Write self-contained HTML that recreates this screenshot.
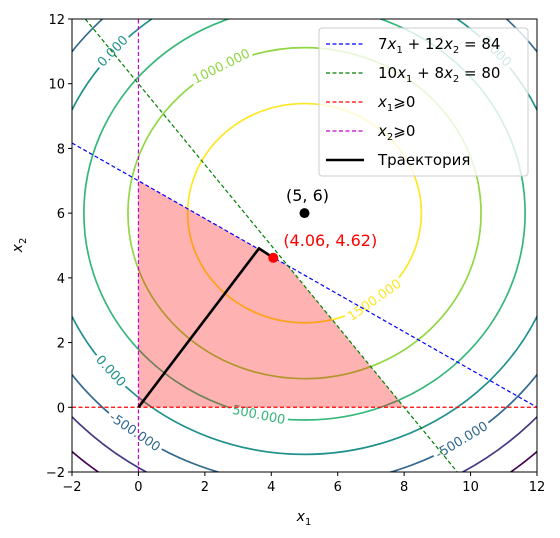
<!DOCTYPE html>
<html><head><meta charset="utf-8"><style>
html,body{margin:0;padding:0;background:#fff;}
svg{display:block;font-family:"DejaVu Sans","Liberation Sans",sans-serif;}
</style></head><body>
<svg id="chart" width="560" height="538" viewBox="0 0 560 538">
<defs><clipPath id="clip"><rect x="72" y="19" width="465" height="453"/></clipPath></defs>
<g id="plot" clip-path="url(#clip)"></g>
<g id="axes"></g>
</svg>
<script>
const levels = [-1500, -1000, -500, 0, 500, 1000, 1500];
const levelColors = ["#440154", "#443983", "#31688e", "#21918c", "#35b779", "#90d743", "#fde725"];
const peakValue = 1890, coefA = 31.5, coefB = 34, centerX = 5, centerY = 6;
const labelLevels = [0, 0, 0, 1000, 1500, 500, -500, -500];
const labelAngles = [138, 221, 42, 118, -53, 258, 234, 303];
const xTicks = [-2, 0, 2, 4, 6, 8, 10, 12];
const yTicks = [-2, 0, 2, 4, 6, 8, 10, 12];
const feasibleX = [0, 0, 4.5, 8];
const feasibleY = [0, 7, 4.375, 0];
const trajX = [0, 3.63, 4.06];
const trajY = [0, 4.91, 4.62];
const optimum = [4.06, 4.62];
const center = [5, 6];

const NS = "http://www.w3.org/2000/svg";
const X0 = 72, X1 = 537, Y0 = 19, Y1 = 472;
const sx = v => X0 + (v + 2) / 14 * (X1 - X0);
const sy = v => Y1 - (v + 2) / 14 * (Y1 - Y0);
function mk(parent, tag, attrs, text) {
  const e = document.createElementNS(NS, tag);
  for (const k in attrs) e.setAttribute(k, attrs[k]);
  if (text !== undefined) e.textContent = text;
  parent.appendChild(e);
  return e;
}
const plot = document.getElementById("plot");
const axes = document.getElementById("axes");

// contours
levels.forEach((lv, i) => {
  const a = Math.sqrt((peakValue - lv) / coefA), b = Math.sqrt((peakValue - lv) / coefB);
  const el = mk(plot, "ellipse", {cx: sx(centerX), cy: sy(centerY), rx: a * (X1 - X0) / 14, ry: b * (Y1 - Y0) / 14, fill: "none", stroke: levelColors[i], "stroke-width": 1.7});
  
  
});
// contour labels
labelLevels.forEach((lv, i) => {
  const a = Math.sqrt((peakValue - lv) / coefA), b = Math.sqrt((peakValue - lv) / coefB);
  const t = labelAngles[i] * Math.PI / 180;
  const px = sx(centerX + a * Math.cos(t)), py = sy(centerY + b * Math.sin(t));
  const dx = -a * Math.sin(t) * (X1 - X0) / 14, dy = -b * Math.cos(t) * (Y1 - Y0) / 14;
  let ang = Math.atan2(dy, dx) * 180 / Math.PI;
  if (ang > 90) ang -= 180; if (ang < -90) ang += 180;
  const idx = levels.indexOf(lv);
  const tx = mk(plot, "text", {x: px, y: py, transform: `rotate(${ang} ${px} ${py})`, "text-anchor": "middle", "dominant-baseline": "central", "font-size": 13, fill: levelColors[idx], stroke: "#fff", "stroke-width": 7, "paint-order": "stroke"}, lv.toFixed(3));
  
  
});

// feasible region (on top of contours, semi-transparent)
const poly = mk(plot, "polygon", {points: feasibleX.map((x, i) => sx(x) + "," + sy(feasibleY[i])).join(" "), fill: "#ff0000", "fill-opacity": "0.3"});



// constraint lines
function line(x1, y1, x2, y2, color, name, dash) {
  const l = mk(plot, "line", {x1: sx(x1), y1: sy(y1), x2: sx(x2), y2: sy(y2), stroke: color, "stroke-width": 1.2, "stroke-dasharray": dash});
  
  
}
line(-2, 98 / 12, 12, 0, "#0000ff", "constraint-line-1", "4 2.5");
line(-1.6, 12, 9.6, -2, "#008000", "constraint-line-2", "4 2.5");
line(-2, 0, 12, 0, "#ff0000", "x1-nonneg-line", "4 2.5");
line(0, -2, 0, 12, "#cc00cc", "x2-nonneg-line", "4 2.5");

// trajectory
const tr = mk(plot, "polyline", {points: trajX.map((x, i) => sx(x) + "," + sy(trajY[i])).join(" "), fill: "none", stroke: "#000", "stroke-width": 2.6});



const c1 = mk(plot, "circle", {cx: sx(center[0]), cy: sy(center[1]), r: 5, fill: "#000"});


const c2 = mk(plot, "circle", {cx: sx(optimum[0]), cy: sy(optimum[1]), r: 5, fill: "#ff0000"});


const t1 = mk(plot, "text", {x: sx(center[0]) + 3, y: sy(center[1]) - 12, "text-anchor": "middle", "font-size": 16, fill: "#000"}, "(5, 6)");


const t2 = mk(plot, "text", {x: sx(optimum[0]) + 57, y: sy(optimum[1]) - 12, "text-anchor": "middle", "font-size": 16, fill: "#ff0000"}, "(4.06, 4.62)");



// legend
const lg = mk(plot, "g", {});


mk(lg, "rect", {x: 319, y: 28, width: 209, height: 148, rx: 3, fill: "#fff", "fill-opacity": 0.8, stroke: "#ccc"});
const legColors = ["#0000ff", "#008000", "#ff0000", "#cc00cc", "#000"];
const legTexts = [
  '7<tspan font-style="italic">x</tspan><tspan font-size="10" dy="4">1</tspan><tspan dy="-4"> + 12</tspan><tspan font-style="italic">x</tspan><tspan font-size="10" dy="4">2</tspan><tspan dy="-4"> = 84</tspan>',
  '10<tspan font-style="italic">x</tspan><tspan font-size="10" dy="4">1</tspan><tspan dy="-4"> + 8</tspan><tspan font-style="italic">x</tspan><tspan font-size="10" dy="4">2</tspan><tspan dy="-4"> = 80</tspan>',
  '<tspan font-style="italic">x</tspan><tspan font-size="10" dy="4">1</tspan><tspan dy="-4">⩾0</tspan>',
  '<tspan font-style="italic">x</tspan><tspan font-size="10" dy="4">2</tspan><tspan dy="-4">⩾0</tspan>',
  'Траектория'];
legTexts.forEach((s, i) => {
  const y = 44 + i * 29;
  const ent = mk(lg, "g", {});
  
  
  mk(ent, "line", {x1: 326, x2: 364, y1: y, y2: y, stroke: legColors[i], "stroke-width": i == 4 ? 2.6 : 1.2, "stroke-dasharray": i == 4 ? "none" : "4 2.5"});
  const t = mk(ent, "text", {x: 378, y: y + 5, "font-size": 15, fill: "#000"});
  t.innerHTML = s;
});

// axes frame & ticks
mk(axes, "rect", {x: X0, y: Y0, width: X1 - X0, height: Y1 - Y0, fill: "none", stroke: "#000", "stroke-width": 1});
xTicks.forEach(v => {
  mk(axes, "line", {x1: sx(v), x2: sx(v), y1: Y1, y2: Y1 + 4, stroke: "#000"});
  const t = mk(axes, "text", {x: sx(v), y: Y1 + 19, "text-anchor": "middle", "font-size": 13}, v < 0 ? "−" + (-v) : v);
  
  
});
yTicks.forEach(v => {
  mk(axes, "line", {x1: X0 - 4, x2: X0, y1: sy(v), y2: sy(v), stroke: "#000"});
  const t = mk(axes, "text", {x: X0 - 7, y: sy(v) + 5, "text-anchor": "end", "font-size": 13}, v < 0 ? "−" + (-v) : v);
  
  
});
const xl = mk(axes, "text", {x: 304, y: 521, "text-anchor": "middle", "font-size": 14});
xl.innerHTML = '<tspan font-style="italic">x</tspan><tspan font-size="10" dy="4">1</tspan>';


const yl = mk(axes, "text", {x: 22, y: 245, "text-anchor": "middle", "font-size": 14, transform: "rotate(-90 22 245)"});
yl.innerHTML = '<tspan font-style="italic">x</tspan><tspan font-size="10" dy="4">2</tspan>';


</script>
</body></html>
